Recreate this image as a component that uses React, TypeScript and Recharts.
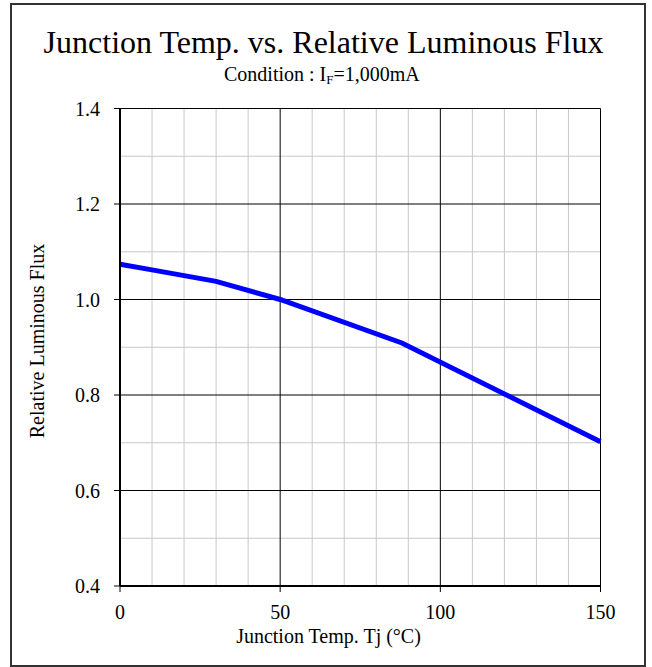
import React from 'react';
import { LineChart, Line, XAxis, YAxis, ReferenceLine } from 'recharts';

const temps = [0, 10, 30, 50, 88, 150];
const flux = [1.074, 1.062, 1.038, 1.0, 0.909, 0.702];
const xTicks = [0, 50, 100, 150];
const yTicks = [0.4, 0.6, 0.8, 1.0, 1.2, 1.4];
const xMinor = [10, 20, 30, 40, 60, 70, 80, 90, 110, 120, 130, 140];
const yMinor = [0.5, 0.7, 0.9, 1.1, 1.3];
const xMajor = [50, 100, 150];
const yMajor = [0.6, 0.8, 1.0, 1.2, 1.4];

const data = temps.map((t, i) => ({ t, v: flux[i] }));

const FONT = '"Liberation Serif", "Times New Roman", serif';

const XTick = (props: any) => {
  const { x, y, payload } = props;
  return (
    <text x={x} y={y} dy={14} textAnchor="middle" fontSize={20} fontFamily={FONT} fill="#000">
      {String(payload.value)}
    </text>
  );
};

const YTick = (props: any) => {
  const { x, y, payload } = props;
  return (
    <text x={x} y={y} dy={7} textAnchor="end" fontSize={20} fontFamily={FONT} fill="#000">
      {Number(payload.value).toFixed(1)}
    </text>
  );
};

export default function App() {
  return (
    <div style={{ position: 'absolute', left: 0, top: 0, width: 652, height: 667, background: '#fff', fontFamily: FONT }}>
      <div style={{ position: 'absolute', left: 10, top: 3, width: 636, height: 664, border: '2px solid #333', boxSizing: 'border-box' }} />
      <div style={{ position: 'absolute', left: 0, top: 0 }}>
        <LineChart width={652} height={667} data={data} margin={{ top: 108.5, right: 51.5, bottom: 51, left: 60 }} style={{ fontFamily: FONT }}>
          {xMinor.map((x) => (
            <ReferenceLine key={'xm' + x} x={x} stroke="#c8c8c8" strokeWidth={1} />
          ))}
          {yMinor.map((y) => (
            <ReferenceLine key={'ym' + y} y={y} stroke="#c8c8c8" strokeWidth={1} />
          ))}
          {xMajor.map((x) => (
            <ReferenceLine key={'xM' + x} x={x} stroke="#000" strokeWidth={1} />
          ))}
          {yMajor.map((y) => (
            <ReferenceLine key={'yM' + y} y={y} stroke="#000" strokeWidth={1} />
          ))}
          <XAxis
            dataKey="t"
            type="number"
            domain={[0, 150]}
            ticks={xTicks}
            height={30}
            axisLine={{ stroke: '#000', strokeWidth: 2 }}
            tickLine={{ stroke: '#000' }}
            tickSize={6}
            tickMargin={13}
            tick={XTick}
            interval={0}
          />
          <YAxis
            type="number"
            domain={[0.4, 1.4]}
            ticks={yTicks}
            width={60}
            axisLine={{ stroke: '#000', strokeWidth: 2 }}
            tickLine={{ stroke: '#000' }}
            tickSize={6}
            tickMargin={14}
            tick={YTick}
            interval={0}
          />
          <Line
            type="linear"
            dataKey="v"
            stroke="#0000ff"
            strokeWidth={5}
            dot={false}
            activeDot={false}
            isAnimationActive={false}
          />
        </LineChart>
      </div>
      <svg width={652} height={667} style={{ position: 'absolute', left: 0, top: 0, pointerEvents: 'none' }}>
        <text x={323.5} y={53} textAnchor="middle" fontSize={32} fontFamily={FONT} fill="#000">
          Junction Temp. vs. Relative Luminous Flux
        </text>
        <text x={224} y={80.7} textAnchor="start" fontSize={20} fontFamily={FONT} fill="#000">
          Condition : I
          <tspan fontSize={13} dy={3}>F</tspan>
          <tspan dy={-3}>=1,000mA</tspan>
        </text>
        <text x={328.5} y={643} textAnchor="middle" fontSize={20} fontFamily={FONT} fill="#000">
          Junction Temp. Tj (°C)
        </text>
        <text x={44} y={341} textAnchor="middle" fontSize={20} fontFamily={FONT} fill="#000" transform="rotate(-90, 44, 341)">
          Relative Luminous Flux
        </text>
      </svg>
    </div>
  );
}
